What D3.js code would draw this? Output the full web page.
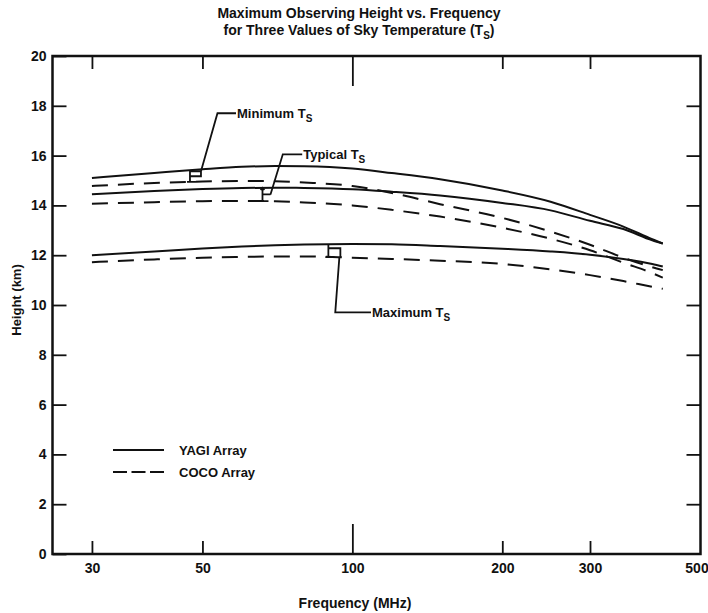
<!DOCTYPE html>
<html>
<head>
<meta charset="utf-8">
<script src="https://cdn.jsdelivr.net/npm/d3@7"></script>
<style>
  body { margin: 0; background: #fff; }
  text { font-family: "Liberation Sans", Arial, sans-serif; font-weight: bold; fill: #111; }
  .tick text { font-family: "Liberation Sans Narrow", "Liberation Sans", Arial, sans-serif; }
</style>
</head>
<body>
<svg id="chart" width="708" height="613"></svg>
<script>
// values (frequency in MHz, height in km)
const freqs   = [30, 40, 50, 60, 70, 80, 100, 120, 150, 200, 250, 300, 350, 400, 420];
const yagiMin = [15.1, 15.3, 15.45, 15.55, 15.58, 15.57, 15.48, 15.3, 15.05, 14.6, 14.15, 13.62, 13.15, 12.64, 12.47];
const yagiTyp = [14.45, 14.58, 14.66, 14.7, 14.71, 14.7, 14.65, 14.55, 14.4, 14.1, 13.8, 13.38, 13.05, 12.6, 12.47];
const yagiMax = [12.0, 12.15, 12.27, 12.35, 12.4, 12.43, 12.45, 12.44, 12.37, 12.26, 12.15, 12.02, 11.85, 11.65, 11.55];
const cocoMin = [14.78, 14.9, 14.96, 14.98, 14.97, 14.92, 14.78, 14.5, 14.05, 13.5, 12.95, 12.42, 11.9, 11.52, 11.4];
const cocoTyp = [14.07, 14.13, 14.17, 14.18, 14.17, 14.12, 14.0, 13.82, 13.55, 13.1, 12.66, 12.2, 11.7, 11.28, 11.1];
const cocoMax = [11.72, 11.83, 11.9, 11.93, 11.95, 11.95, 11.9, 11.85, 11.78, 11.65, 11.43, 11.2, 10.96, 10.73, 10.65];

const xTicks = [30, 50, 100, 200, 300, 500];
const yTicks = [0, 2, 4, 6, 8, 10, 12, 14, 16, 18, 20];

const series = [
    {name: "yagiMin", values: yagiMin, dashed: false},
    {name: "yagiTyp", values: yagiTyp, dashed: false},
    {name: "yagiMax", values: yagiMax, dashed: false},
    {name: "cocoMin", values: cocoMin, dashed: true},
    {name: "cocoTyp", values: cocoTyp, dashed: true},
    {name: "cocoMax", values: cocoMax, dashed: true}
];

// bracket annotations: frequency of the bracket, solid/dashed pair, leader bend, text start
const notes = [
    {label: "Minimum", f: 47.2, solid: yagiMin, dash: cocoMin, bendF: 53.6, bendH: 17.7, textF: 58.4, kind: "tab"},
    {label: "Typical", f: 66, solid: yagiTyp, dash: cocoTyp, bendF: 72.5, bendH: 16.05, textF: 79.3, kind: "arrow"},
    {label: "Maximum", f: 89.5, solid: yagiMax, dash: cocoMax, bendF: 92.4, bendH: 9.7, textF: 109, kind: "down"}
];

const margin = {top: 56, right: 7.5, bottom: 59, left: 52.5};
const width = 708 - margin.left - margin.right;
const height = 613 - margin.top - margin.bottom;

const svg = d3.select("#chart");
const g = svg.append("g").attr("transform", `translate(${margin.left},${margin.top})`);

const x = d3.scaleLog().domain([25, 500]).range([0, width]);
const y = d3.scaleLinear().domain([0, 20]).range([height, 0]);

// axes with inward ticks
const bottomAxis = g.append("g")
    .attr("transform", `translate(0,${height})`)
    .call(d3.axisBottom(x).tickValues(xTicks).tickFormat(d3.format("d"))
        .tickSizeInner(-13).tickSizeOuter(0).tickPadding(9));
const topAxis = g.append("g")
    .call(d3.axisTop(x).tickValues(xTicks.slice(0, -1)).tickFormat("")
        .tickSizeInner(-13).tickSizeOuter(0));
bottomAxis.selectAll(".tick line").filter(d => d === 100).attr("y2", -30);
topAxis.selectAll(".tick line").filter(d => d === 100).attr("y2", 30);
bottomAxis.selectAll(".tick").filter(d => d === 500).select("line").remove();
// last label sits on the right edge; keep it inside the page
bottomAxis.selectAll(".tick").filter(d => d === 500).select("text").attr("dx", -4);

g.append("g")
    .call(d3.axisLeft(y).tickValues(yTicks).tickFormat(d3.format("d"))
        .tickSizeInner(-14).tickSizeOuter(0).tickPadding(6));
g.append("g")
    .attr("transform", `translate(${width},0)`)
    .call(d3.axisRight(y).tickValues(yTicks.slice(1, -1)).tickFormat("")
        .tickSizeInner(-14).tickSizeOuter(0));

g.selectAll(".domain").remove();
g.selectAll(".tick line").attr("stroke", "#111").attr("stroke-width", 1.8);
g.selectAll(".tick text").attr("font-size", 14).attr("fill", "#111");

g.append("rect")
    .attr("width", width)
    .attr("height", height)
    .attr("fill", "none")
    .attr("stroke", "#111")
    .attr("stroke-width", 2.5);

// curves
const line = d3.line()
    .x((d, i) => x(freqs[i]))
    .y(d => y(d))
    .curve(d3.curveMonotoneX);

g.selectAll(".curve")
    .data(series)
    .enter().append("path")
    .attr("class", "curve")
    .attr("d", d => line(d.values))
    .attr("fill", "none")
    .attr("stroke", "#111")
    .attr("stroke-width", 2)
    .attr("stroke-dasharray", d => d.dashed ? "16,10" : null);

// value of a series at an arbitrary frequency (on the log axis)
function at(values, f) {
    const lx = freqs.map(v => Math.log(v));
    return d3.scaleLinear().domain(lx).range(values)(Math.log(f));
}

notes.forEach(n => {
    const x0 = x(n.f);
    const ys = y(at(n.solid, n.f));
    const yd = y(at(n.dash, n.f));
    const bx = x(n.bendF), by = y(n.bendH), tx = x(n.textF);
    let p = d3.path();
    p.moveTo(x0, ys); p.lineTo(x0, yd);
    p.moveTo(x0 - 3, yd); p.lineTo(x0 + 6, yd);
    let sx, sy;
    if (n.kind === "tab") {
        p.moveTo(x0, ys + 1); p.lineTo(x0 + 11, ys + 1); p.lineTo(x0 + 11, ys + 6); p.lineTo(x0, ys + 6);
        sx = x0 + 11; sy = ys + 1;
    } else if (n.kind === "arrow") {
        p.moveTo(x0 - 2, ys + 2); p.lineTo(x0, ys); p.lineTo(x0 + 2, ys + 2);
        p.moveTo(x0, (ys + yd) / 2); p.lineTo(x0 + 8, (ys + yd) / 2);
        sx = x0 + 8; sy = (ys + yd) / 2;
    } else {
        p.moveTo(x0, ys + 4); p.lineTo(x0 + 12, ys + 4); p.lineTo(x0 + 12, yd);
        sx = x0 + 11; sy = yd;
    }
    p.moveTo(sx, sy); p.lineTo(bx, by); p.lineTo(tx, by);
    g.append("path")
        .attr("d", p.toString())
        .attr("fill", "none")
        .attr("stroke", "#111")
        .attr("stroke-width", 1.8);

    const t = g.append("text")
        .attr("x", tx + 1)
        .attr("y", by + 5)
        .attr("font-size", 13);
    t.append("tspan").text(n.label + "  T");
    t.append("tspan").attr("font-size", 10).attr("dy", 4).text("S");
});

// legend
const legend = [
    {label: "YAGI Array", dashed: false},
    {label: "COCO Array", dashed: true}
];
const lg = svg.append("g").attr("transform", "translate(113,450)");
legend.forEach((d, i) => {
    lg.append("line")
        .attr("x1", 0).attr("x2", 51)
        .attr("y1", i * 22).attr("y2", i * 22)
        .attr("stroke", "#111")
        .attr("stroke-width", 2)
        .attr("stroke-dasharray", d.dashed ? "14,4.5" : null);
    lg.append("text")
        .attr("x", 66)
        .attr("y", i * 22 + 5)
        .attr("font-size", 13)
        .text(d.label);
});

// titles
const title = svg.append("g").attr("text-anchor", "middle");
title.append("text").attr("x", 359).attr("y", 18).attr("font-size", 14)
    .text("Maximum Observing Height vs. Frequency");
const t2 = title.append("text").attr("x", 359).attr("y", 35).attr("font-size", 14);
t2.append("tspan").text("for Three Values of Sky Temperature (T");
t2.append("tspan").attr("font-size", 10).attr("dy", 4).text("S");
t2.append("tspan").attr("dy", -4).text(")");

svg.append("text")
    .attr("x", 355).attr("y", 608)
    .attr("text-anchor", "middle")
    .attr("font-size", 14)
    .text("Frequency (MHz)");

svg.append("text")
    .attr("transform", "translate(21,300) rotate(-90)")
    .attr("text-anchor", "middle")
    .attr("font-size", 13)
    .text("Height (km)");
</script>
</body>
</html>
